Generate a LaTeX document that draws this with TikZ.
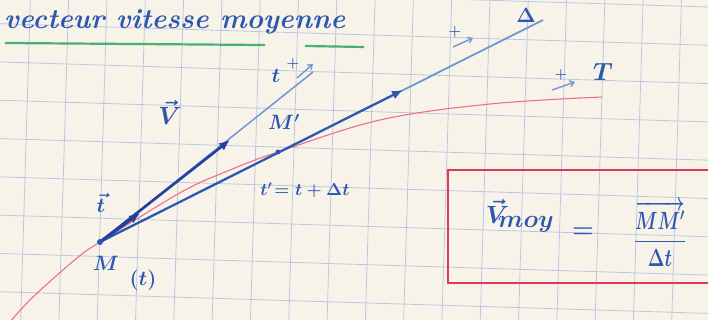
\documentclass[tikz,border=0pt]{standalone}
\usepackage{amsmath}
\usepackage{bm}
\usetikzlibrary{arrows.meta}

\definecolor{paper}{RGB}{247,243,232}
\definecolor{gridblue}{RGB}{186,199,226}
\definecolor{inkblue}{RGB}{45,88,178}
\definecolor{darkink}{RGB}{35,66,160}
\definecolor{lightink}{RGB}{112,150,212}
\definecolor{curvered}{RGB}{236,112,142}
\definecolor{boxred}{RGB}{222,58,88}
\definecolor{inkgreen}{RGB}{72,176,112}

\begin{document}
\begin{tikzpicture}[x=1pt, y=-1pt,
  gridline/.style={draw=gridblue, line width=0.8pt},
  ink/.style={text=inkblue, inner sep=0pt, font=\fontsize{22}{24}\selectfont\boldmath},
  bigink/.style={text=inkblue, inner sep=0pt, font=\fontsize{30}{32}\selectfont\boldmath},
  thinline/.style={draw=lightink, line width=1.5pt},
  thicktip/.style={-{Latex[length=11pt,width=9pt]}, line width=2.6pt, draw=darkink},
  orient/.style={-{Straight Barb[length=4pt,width=6pt]}, line width=1.4pt, draw=lightink}]

% ============================
% Paper and grid
% ============================
\fill[paper] (0,0) rectangle (708,320);
\useasboundingbox (0,0) rectangle (708,320);
\foreach \k in {-1,...,8}{
  \draw[gridline] (-5,{23.5+38.3*\k}) -- (715,{45.5+38.3*\k});
}
\foreach \j in {-1,...,19}{
  \draw[gridline] ({30.5+38.3*\j},-5) -- ({20.5+38.3*\j},325);
}

% ============================
% Title
% ============================
\node[text=inkblue, font=\fontsize{28}{30}\selectfont\bfseries\itshape, inner sep=0pt, anchor=west] (title) at (4,22) {vecteur vitesse moyenne};
\coordinate (g1a) at (5,43);
\coordinate (g1b) at (265,45);
\coordinate (g2a) at (305,46);
\coordinate (g2b) at (364,47);
\draw[inkgreen, line width=2.2pt] (g1a) -- (g1b);
\draw[inkgreen, line width=2.2pt] (g2a) -- (g2b);

% ============================
% Points
% ============================
\coordinate (M) at (100,242);
\coordinate (Mp) at (278,152);
\coordinate (Vend) at (230,140);
\coordinate (Tend) at (313,72);
\coordinate (secA) at (403,90);
\coordinate (Dend) at (543,20);
\coordinate (tv) at (140,213);

% ============================
% Trajectory
% ============================
\draw[curvered, line width=1.1pt] plot[smooth, tension=0.6] coordinates
  {(10,322) (33,297) (77,258) (100,242) (135,220) (187,189) (230,170) (278,152) (380,120) (490,104) (602,97)};

% ============================
% Tangent and secant
% ============================
\draw[thinline] (M) -- (Tend);
\draw[thinline, line width=1.8pt] (M) -- (Dend);
\draw[thicktip] (M) -- (Vend);
\draw[thicktip, line width=2.2pt, draw=inkblue] (M) -- (secA);
\draw[thicktip, line width=3pt] (M) -- (tv);
\fill[inkblue] (M) circle (3pt);
\fill[inkblue] (Mp) circle (2.5pt);

% ============================
% Orientation marks
% ============================
\coordinate (o1a) at (297,78);
\coordinate (o1b) at (313,64);
\coordinate (o2a) at (453,47);
\coordinate (o2b) at (473,38);
\coordinate (o3a) at (552,90);
\coordinate (o3b) at (575,82);
\draw[orient] (o1a) -- (o1b);
\draw[orient] (o2a) -- (o2b);
\draw[orient] (o3a) -- (o3b);
\node[ink, font=\fontsize{15}{15}\selectfont\boldmath] (p1) at (293,64) {$+$};
\node[ink, font=\fontsize{15}{15}\selectfont\boldmath] (p2) at (455,32) {$+$};
\node[ink, font=\fontsize{15}{15}\selectfont\boldmath] (p3) at (561,75) {$+$};

% ============================
% Labels
% ============================
\node[ink] (lt) at (276,76) {$t$};
\node[ink] (lD) at (526,15) {$\Delta$};
\node[ink, font=\fontsize{25}{27}\selectfont\boldmath] (lT) at (603,72) {$T$};
\node[bigink] (lV) at (170,112) {$\vec{V}$};
\node[ink] (lMp) at (284,122) {$M'$};
\node[ink] (lM) at (106,263) {$M$};
\node[ink] (lMt) at (143,280) {$(t)$};
\node[ink] (ltv) at (101,203) {$\vec{t}$};
\node[ink, font=\fontsize{17}{19}\selectfont\boldmath] (ltp) at (305,190) {$t'\!=t+\Delta t$};

% ============================
% Boxed formula
% ============================
\coordinate (bx1) at (712,170);
\coordinate (bx2) at (448,170);
\coordinate (bx3) at (448,283);
\coordinate (bx4) at (712,283);
\draw[boxred, line width=1.3pt] (bx1) -- (bx2) -- (bx3) -- (bx4);
\node[bigink, font=\fontsize{34}{36}\selectfont\boldmath] (vmoy) at (520,216) {$\vec{V}_{\!moy}$};
\node[bigink] (eq) at (583,233) {$=$};
\node[bigink, font=\fontsize{25}{27}\selectfont\boldmath] (frac) at (660,234) {\scalebox{0.72}[1]{$\dfrac{\overrightarrow{MM'}}{\Delta t}$}};

\end{tikzpicture}
\end{document}
